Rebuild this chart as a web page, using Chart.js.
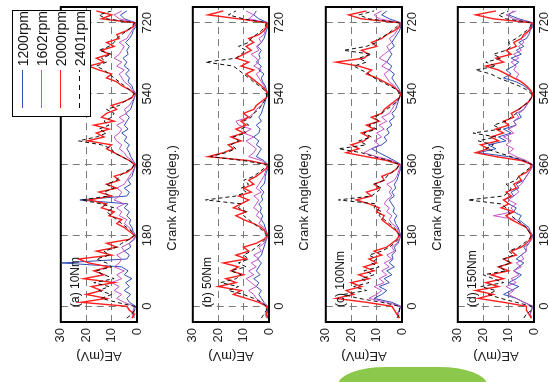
<!DOCTYPE html>
<html>
<head>
<meta charset="utf-8">
<script src="https://cdn.jsdelivr.net/npm/chart.js@4/dist/chart.umd.min.js"></script>
<style>
html, body { margin: 0; padding: 0; background: #fff; }
body { width: 548px; height: 382px; overflow: hidden; position: relative; font-family: "Liberation Sans", Arial, sans-serif; }
/* the figure is drawn upright and then turned a quarter turn, like the scanned page */
#fig { position: absolute; left: 0; top: 0; width: 382px; height: 548px; transform-origin: 0 0; transform: translate(0, 382px) rotate(-90deg); }
.panel { position: absolute; left: 0; width: 382px; height: 135px; }
#legend { position: absolute; left: 265px; top: 12px; width: 107px; height: 79px; border: 1.5px solid #000; background: #fff; box-sizing: border-box; padding-top: 0; }
#legend .row { height: 19px; display: flex; align-items: center; font-size: 14px; color: #111; }
#legend .sw { display: inline-block; width: 38px; height: 1px; margin: 0 4px 0 8px; }
#blob { position: absolute; left: 338px; top: 367px; width: 149px; height: 30px; background: #8cc84b; border-radius: 48px 48px 0 0 / 18px 18px 0 0; }
</style>
</head>
<body>
<div id="fig">
  <div class="panel" style="top:47px"><canvas id="pa" width="382" height="135"></canvas></div>
  <div class="panel" style="top:179px"><canvas id="pb" width="382" height="135"></canvas></div>
  <div class="panel" style="top:312px"><canvas id="pc" width="382" height="135"></canvas></div>
  <div class="panel" style="top:444px"><canvas id="pd" width="382" height="135"></canvas></div>
  <div id="legend">
    <div class="row"><span class="sw" style="background:#2f4fb5"></span>1200rpm</div>
    <div class="row"><span class="sw" style="background:#c653c6"></span>1602rpm</div>
    <div class="row"><span class="sw" style="background:#ff1f1f;height:1.5px"></span>2000rpm</div>
    <div class="row"><span class="sw" style="background:repeating-linear-gradient(90deg,#111 0 5px,transparent 5px 9px)"></span>2401rpm</div>
  </div>
</div>
<div id="blob"></div>
<script>
// crank angle of each sample (deg.)
const angles = [-30,-20,-10,0,10,20,30,40,50,60,70,80,90,100,110,120,130,140,150,160,170,180,
  190,200,210,220,230,240,250,260,270,280,290,300,310,320,330,340,350,360,
  370,380,390,400,410,420,430,440,450,460,470,480,490,500,510,520,530,540,
  550,560,570,580,590,600,610,620,630,640,650,660,670,680,690,700,710,720,730,740,750];
const angleTicks = [0, 180, 360, 540, 720];

// (a) 10Nm, AE in mV
const a1200 = [1,1.5,1,0.5,3,4,2.5,5,3,4.5,2,5,3.5,6,29.5,4,3,5,2.5,3,1,0.5,1.5,2,3,2.5,4,3,5,3.5,22.5,4,3,5,2.5,3.5,2,1.5,1,0.5,1.5,2.5,3,4,3,5,4,6,3.5,5,4,3,4.5,2.5,2,1.5,1,0.5,1.5,2,3.5,3,4.5,3,5,4,5.5,3.5,4,3,4.5,3,2,1.5,0.5,0.5,5,6.5,4];
const a1602 = [1,2,1.5,1,5,8,6,9,7,10,6,8,5,9,7,6,8,5,6,3,1.5,0.5,2,3,5,4,7,6,8,5,9,7,6,8,5,4,3,2,1,0.5,2,4,5,7,6,8,9,7,6,8,5,7,4,5,3,2,1,0.5,2,3,5,6,7,5,8,6,9,7,6,5,7,4,3,2,1,0.5,7,9,6];
const a2000 = [2,1,3,4,22,12,20,14,18,9,21,13,17,11,19,23,10,16,8,12,3,1,3,5,8,6,11,9,14,12,19,10,15,8,12,7,9,4,2,1,3,6,9,12,10,19.5,13,16,11,17,9,14,12,8,10,5,2,1,3,6,8,12,10,15,19,13,16,11,14,9,12,7,8,4,1.5,1,14,10,16];
const a2401 = [4,2,1,1,8,14,10,15,11,17,9,13,16,10,12,16,11,13,8,6,3,1,2,4,6,8,10,12,9,14,22,11,13,9,12,8,7,5,2,1,3,6,9,10,14,23,16,12,15,11,13,10,9,12,7,5,2,1,3,5,7,9,11,13,16,12,14,10,15,11,9,8,6,4,2,1,12,15,10];

// (b) 50Nm
const b1200 = [0.5,1,0.5,0.5,2,3,4,3,5,4,6,3.5,5,4,3,4.5,3,2.5,2,1.5,1,0.5,1,1.5,2,3,2.5,3.5,3,4,2.5,3,2,3.5,2,1.5,1.5,1,0.5,0.5,2,5,4,3,5,4,6,4,3.5,5,3,4,3,2.5,2,1.5,1,0.5,1,1.5,2.5,3,2,4,3,5,3.5,4,3,4.5,3,2,1.5,1,0.5,0.5,4,6,5];
const b1602 = [1,1.5,1,0.5,3,5,6,8,5,7,9,6,8,5,7,4,6,3,4,2,1,0.5,1.5,2,4,3,5,4,6,5,4,6,3,5,4,3,2,1.5,1,0.5,3,8,6,5,7,9,6,10,7,12,13,8,6,5,3,2,1,0.5,1.5,2,3,4,5,3,6,4,5,7,4,5,3,4,2,1.5,1,0.5,8,6,9];
const b2000 = [0.5,1,0.5,1,4,9,14,11,20,13,17,10,15,12,18,9,13,8,10,5,2,0.5,1.5,3,6,10,13,9,14,11,8,12,7,10,6,8,5,3,1,0.5,8,24,18,14,16,11,15,10,13,9,11,8,10,6,5,3,1,0.5,1.5,3,5,7,9,6,11,8,13,10,7,9,6,8,4,2,1,1,12,24,18];
const b2401 = [3,2,1,1,3,6,10,16,12,19,13,11,15,9,12,8,10,7,5,3,1.5,1,2,4,6,8,10,9,12,11,25,13,9,11,8,10,6,4,2,1,10,23,17,13,15,12,14,9,11,8,10,7,6,4,3,2,1,1,2,4,6,8,10,12,14,25,13,11,9,12,8,7,5,3,1.5,1,10,16,13];

// (c) 100Nm
const c1200 = [1,2,1,0.5,4,11,8,6,9,5,7,4,6,3,5,3.5,4,2.5,3,1.5,1,0.5,1,1.5,2.5,3,2,3.5,3,4,5,3,4,2.5,3,2,1.5,1,0.5,0.5,3,6,9,12,8,6,7,5,6,4,5,3,4,2.5,2,1.5,1,0.5,1,2,3,4,3,5,4,6,5,4,5,3,4,3,2,1,0.5,0.5,5,8,6];
const c1602 = [1,1.5,1,0.5,6,13,10,8,11,7,9,6,8,5,7,4,6,3,4,2,1,0.5,1.5,2,4,5,4,6,5,7,6,4,5,4,6,3,2,1.5,1,0.5,4,10,15,12,9,11,8,10,7,9,6,8,5,4,3,2,1,0.5,2,3,5,6,7,5,8,6,9,7,5,6,4,5,3,2,1,0.5,9,11,8];
const c2000 = [1,2,3,4,14,26,19,22,16,20,13,17,11,15,10,13,8,11,6,4,2,1,2,4,6,8,7,10,9,13,18,12,14,9,11,7,8,4,2,1,6,14,22,17,20,15,13,16,11,14,9,12,8,7,5,3,1,0.5,2,4,7,10,14,12,17,26,15,13,16,10,12,8,6,3,1,1,16,21,14];
const c2401 = [2,1,1,1,8,17,23,14,19,13,16,11,15,9,12,10,13,8,5,3,1.5,1,2,3,5,7,9,8,11,10,25,12,10,8,11,7,6,4,2,1,5,11,16,25,14,17,12,15,10,13,9,11,8,6,4,2,1,1,2,5,8,11,13,16,19,14,17,12,23,14,10,9,6,4,2,1,13,17,11];

// (d) 150Nm
const d1200 = [1,1.5,1,0.5,4,7,12,9,6,10,7,5,8,6,4,7,5,3,4,2,1,0.5,1.5,2,4,6,5,8,7,10,12,8,9,6,7,4,3,2,1,0.5,4,10,22,15,18,11,14,9,12,7,8,5,6,4,3,2,1,0.5,2,4,7,12,9,11,8,6,9,5,7,4,6,3,2,1.5,0.5,0.5,6,10,8];
const d1602 = [1,1.5,1,0.5,4,7,10,8,11,7,9,6,8,5,7,4,5,3,3,2,1,0.5,2,3,5,7,16,8,9,7,10,8,6,7,5,4,3,2,1,0.5,3,7,10,8,11,9,12,8,10,7,8,6,7,4,3,2,1,0.5,2,3,5,7,6,8,7,9,6,8,5,6,4,5,3,2,1,0.5,8,11,7];
const d2000 = [1,2,3,3,12,22,16,23,14,19,12,17,10,14,9,12,7,9,5,3,1.5,1,2,3,6,9,11,8,13,10,12,9,11,7,8,5,6,3,1.5,1,5,15,23,18,21,14,17,12,15,10,12,8,9,6,4,2,1,0.5,1.5,3,5,8,11,14,19,12,15,9,11,7,8,5,4,2,1,1,16,23,15];
const d2401 = [4,3,1,1,7,13,18,15,21,12,16,20,11,14,9,12,8,10,6,4,2,1,2,3,5,7,9,10,11,13,26,12,10,9,11,7,6,4,2,1,4,9,14,19,16,22,15,24,13,16,11,9,7,6,4,2,1,1,3,6,10,14,17,23,15,19,13,16,11,9,10,7,5,3,1.5,1,11,14,10];

Chart.defaults.font.family = '"Liberation Sans", Arial, sans-serif';

// box round the plot, the panel name and the x title
const framePlugin = {
    id: 'frame',
    afterDatasetsDraw(chart, args, opts) {
        const a = chart.chartArea, ctx = chart.ctx;
        ctx.save();
        ctx.fillStyle = '#111';
        ctx.font = '12px "Liberation Sans", Arial, sans-serif';
        ctx.textBaseline = 'middle';
        ctx.fillText(opts.label, a.left + 15, a.top + 15);
        ctx.strokeStyle = '#000';
        ctx.lineWidth = 2;
        ctx.strokeRect(a.left, a.top, a.right - a.left, a.bottom - a.top);
        ctx.font = '13px "Liberation Sans", Arial, sans-serif';
        ctx.fillStyle = '#222';
        ctx.textAlign = 'center';
        ctx.fillText('Crank Angle(deg.)', 184, a.bottom + 35);
        ctx.restore();
    }
};

let makePanel = function(id, label, s1200, s1602, s2000, s2401) {
    let pts = function(arr) {
        return angles.map(function(a, i) { return {x: a, y: arr[i]}; });
    };
    new Chart(document.getElementById(id), {
        type: 'line',
        data: {
            datasets: [
                {data: pts(s2401), borderColor: '#111', borderWidth: 1, borderDash: [4, 3]},
                {data: pts(s2000), borderColor: '#ff1f1f', borderWidth: 1.4},
                {data: pts(s1602), borderColor: '#c653c6', borderWidth: 1},
                {data: pts(s1200), borderColor: '#2f4fb5', borderWidth: 1}
            ]
        },
        options: {
            responsive: false,
            animation: false,
            events: [],
            layout: {padding: {top: 10, right: 7, left: 0, bottom: 0}},
            elements: {point: {radius: 0}, line: {tension: 0}},
            plugins: {legend: {display: false}, tooltip: {enabled: false}, frame: {label: label}},
            scales: {
                x: {
                    type: 'linear', min: -40, max: 760,
                    afterBuildTicks: function(s) { s.ticks = angleTicks.map(function(v) { return {value: v}; }); },
                    afterFit: function(s) { s.height = 45; },
                    grid: {color: '#7a7a7a', drawTicks: false},
                    border: {display: false, dash: [7, 5]},
                    ticks: {padding: 3, color: '#222', font: {size: 13}, maxRotation: 0}
                },
                y: {
                    min: 0, max: 30,
                    afterFit: function(s) { s.width = 60; },
                    grid: {color: '#7a7a7a', drawTicks: false},
                    border: {display: false, dash: [7, 5]},
                    ticks: {stepSize: 10, padding: 6, color: '#222', font: {size: 13}},
                    title: {display: true, text: 'AE(mV)', color: '#222', font: {size: 13}, padding: {top: 19, bottom: 0}}
                }
            }
        },
        plugins: [framePlugin]
    });
};

makePanel('pa', '(a) 10Nm', a1200, a1602, a2000, a2401);
makePanel('pb', '(b) 50Nm', b1200, b1602, b2000, b2401);
makePanel('pc', '(c) 100Nm', c1200, c1602, c2000, c2401);
makePanel('pd', '(d) 150Nm', d1200, d1602, d2000, d2401);
</script>
</body>
</html>
